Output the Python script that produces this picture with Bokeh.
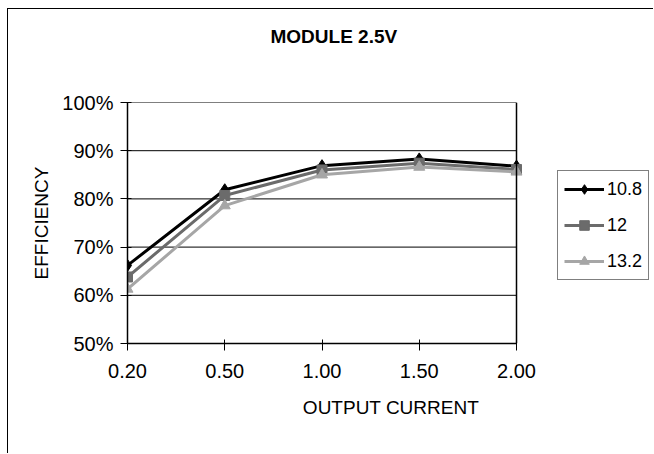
from bokeh.plotting import figure
from bokeh.models import (Range1d, FixedTicker, NumeralTickFormatter, Legend,
                          LegendItem, Span, Title)
from bokeh.embed import file_html
from bokeh.resources import INLINE

title = "MODULE 2.5V"
x_title = "OUTPUT CURRENT"
y_title = "EFFICIENCY"
currents = ["0.20", "0.50", "1.00", "1.50", "2.00"]
series_names = ["10.8", "12", "13.2"]
eff_10_8 = [0.662, 0.819, 0.869, 0.883, 0.868]
eff_12 = [0.638, 0.807, 0.860, 0.874, 0.861]
eff_13_2 = [0.613, 0.786, 0.850, 0.866, 0.856]
y_ticks = [0.5, 0.6, 0.7, 0.8, 0.9, 1.0]

FONT = "Liberation Sans"
xs = list(range(len(currents)))
x_last = len(currents) - 1

# layout (pixels): plotted area is 389px wide, frame extends to page edge (527px)
PLOT_PX = 389
FRAME_PX = 527

p = figure(width=646, height=445, output_backend="svg", toolbar_location=None,
           x_range=Range1d(0, x_last * FRAME_PX / PLOT_PX),
           y_range=Range1d(y_ticks[0], y_ticks[-1]),
           min_border_left=119, min_border_right=0, min_border_top=93,
           min_border_bottom=111, background_fill_color="white",
           border_fill_color="white", title=None)
p.styles = {"border-top": "1px solid black", "border-left": "1px solid black",
            "margin-top": "8px", "margin-left": "7px"}

# spacer between title and plot area, then the title itself (outermost)
spacer = Title(text=" ", text_font=FONT, text_font_size="10px", standoff=29)
p.add_layout(spacer, "above")
t = Title(text=title, align="left", offset=143, standoff=28,
          text_font=FONT, text_font_size="19px", text_font_style="bold",
          text_color="black")
p.add_layout(t, "above")

p.outline_line_color = None

p.xaxis.ticker = FixedTicker(ticks=xs)
p.xaxis.major_label_overrides = {i: c for i, c in enumerate(currents)}
p.xaxis.bounds = (0, x_last)
p.yaxis.ticker = FixedTicker(ticks=y_ticks)
p.yaxis.formatter = NumeralTickFormatter(format="0%")
for ax in (p.xaxis, p.yaxis):
    ax.axis_line_color = "black"
    ax.axis_line_width = 1.5
    ax.major_tick_line_color = "black"
    ax.major_tick_in = 4
    ax.major_tick_out = 7
    ax.minor_tick_line_color = None
    ax.major_label_text_font = FONT
    ax.major_label_text_font_size = "20px"
    ax.major_label_text_color = "black"
    ax.axis_label_text_font = FONT
    ax.axis_label_text_font_size = "19px"
    ax.axis_label_text_font_style = "normal"
    ax.axis_label_text_color = "black"
p.xaxis.axis_label = x_title
p.yaxis.axis_label = y_title
p.xaxis.major_label_standoff = 13
p.yaxis.major_label_standoff = 7
p.xaxis.axis_label_standoff = 16
p.yaxis.axis_label_standoff = 7

p.xgrid.grid_line_color = None
p.ygrid.grid_line_color = None

# horizontal gridlines only across the plotted categories
grid_y = y_ticks[1:]
p.segment(x0=[0] * len(grid_y), x1=[x_last] * len(grid_y), y0=grid_y, y1=grid_y,
          line_color="black", line_width=1)
p.add_layout(Span(location=x_last, dimension="height", line_color="black",
                  line_width=1.5))

colors = ["#000000", "#6b6b6b", "#a6a6a6"]
markers = ["diamond", "square", "triangle"]
sizes = [12, 10, 11]
data = [eff_10_8, eff_12, eff_13_2]
items = []
for name, ys, c, m, s in zip(series_names, data, colors, markers, sizes):
    lr = p.line(xs, ys, line_color=c, line_width=3)
    sr = p.scatter(xs, ys, marker=m, size=s, fill_color=c, line_color=c)
    items.append(LegendItem(label=name, renderers=[lr, sr]))

legend = Legend(items=items, location=(430, 63), orientation="vertical",
                label_text_font=FONT, label_text_font_size="18px",
                label_text_color="black",
                border_line_color="black", border_line_width=1,
                background_fill_color="white", background_fill_alpha=1,
                glyph_width=40, glyph_height=24, label_standoff=3,
                spacing=12, padding=6, margin=0)
p.add_layout(legend, "center")

open("out.html", "w").write(file_html(p, INLINE))
